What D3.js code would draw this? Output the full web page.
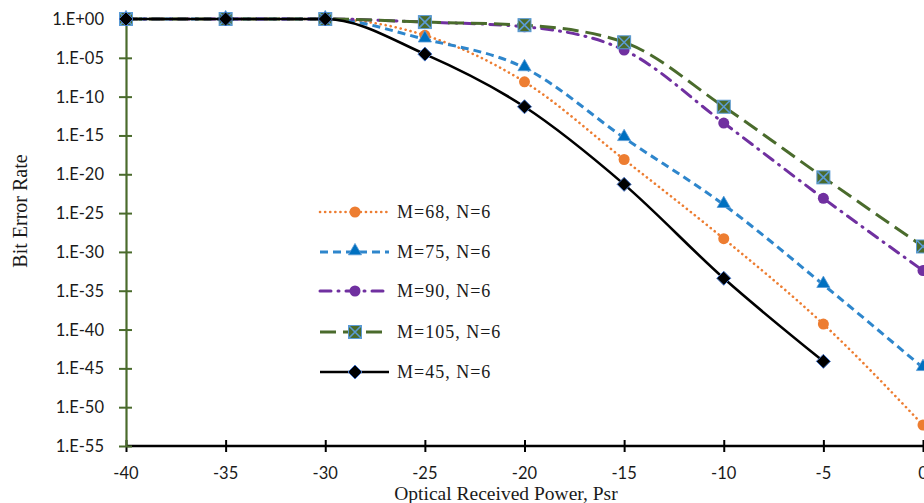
<!DOCTYPE html>
<html>
<head>
<meta charset="utf-8">
<script src="https://cdn.jsdelivr.net/npm/d3@7"></script>
<style>
	body { margin: 0; background: #fff; overflow: hidden; }
	.tick_lbl { font-family: Lato, "Open Sans", sans-serif; font-size: 16.5px; fill: #1a1a1a; }
	.ax_title { font-family: "Liberation Serif", "DejaVu Serif", serif; font-size: 20px; fill: #1a1a1a; }
	.x_title { font-size: 19.5px; }
	.leg_text { font-family: "Liberation Serif", "DejaVu Serif", serif; font-size: 18px; fill: #1a1a1a; letter-spacing: 1px; }
</style>
</head>
<body>
<div id="chart"></div>
<script>
// x values (optical received power)
let power = [-40, -35, -30, -25, -20, -15, -10, -5, 0];

// BER values
let ber_m68  = [1, 1, 1, 8e-3, 8e-9, 8e-19, 5e-29, 5e-40, 5e-53];
let ber_m75  = [1, 1, 1, 2.5e-3, 5e-7, 5e-16, 1.2e-24, 6e-35, 1.2e-45];
let ber_m90  = [1, 1, 1, 0.4, 0.1, 1e-4, 4e-14, 8e-24, 4e-33];
let ber_m105 = [1, 1, 1, 0.4, 0.16, 1e-3, 5e-12, 4e-21, 5e-30];
let ber_m45  = [1, 1, 1, 3e-5, 5e-12, 5e-22, 4e-34, 8e-45];

let series_names = ["M=68, N=6", "M=75, N=6", "M=90, N=6", "M=105, N=6", "M=45, N=6"];

let x_ticks = [-40, -35, -30, -25, -20, -15, -10, -5, 0];
let y_ticks = [1, 1e-5, 1e-10, 1e-15, 1e-20, 1e-25, 1e-30, 1e-35, 1e-40, 1e-45, 1e-50, 1e-55];
let y_tick_labels = ["1.E+00", "1.E-05", "1.E-10", "1.E-15", "1.E-20", "1.E-25", "1.E-30", "1.E-35", "1.E-40", "1.E-45", "1.E-50", "1.E-55"];

let width = 924, height = 503;
let plot = {left: 126, right: 923, top: 19, bottom: 446};

let svg = d3.select("#chart").append("svg")
	.attr("width", width)
	.attr("height", height);

//scales
let x_scale = d3.scaleLinear().domain([-40, 0]).range([plot.left, plot.right]);
let y_scale = d3.scaleLog().domain([1e-55, 1]).range([plot.bottom, plot.top]);

//series styles
let styles = [
	{color: "#ED7D31", width: 2.6, dash: "0.1 5", cap: "round", marker: "circle"},
	{color: "#2E86CC", width: 3, dash: "8 5", cap: "butt", marker: "triangle"},
	{color: "#7030A0", width: 3, dash: "11 7 1 7", cap: "round", marker: "circle2"},
	{color: "#4A6B2C", width: 3, dash: "16 7", cap: "butt", marker: "square"},
	{color: "#000000", width: 2.6, dash: null, cap: "butt", marker: "diamond"}
];

let all_data = [ber_m68, ber_m75, ber_m90, ber_m105, ber_m45].map(vals =>
	vals.map((v, i) => ({x: power[i], y: v})));

//x axis
let x_axis = d3.axisBottom(x_scale).tickValues(x_ticks).tickSizeInner(5).tickSizeOuter(0).tickFormat("");
let gx = svg.append("g")
	.attr("transform", "translate(0," + plot.bottom + ")")
	.call(x_axis);
gx.select(".domain").attr("stroke", "#000").attr("stroke-width", 2.5).attr("d", "M" + plot.left + ",0H" + (plot.right + 3));
gx.selectAll(".tick line").attr("stroke", "#000").attr("stroke-width", 2).attr("y1", -6).attr("y2", 6);
svg.selectAll(".x_lbl")
	.data(x_ticks)
	.enter()
	.append("text")
	.attr("class", "tick_lbl")
	.attr("x", d => x_scale(d))
	.attr("y", 479)
	.attr("text-anchor", "middle")
	.text(d => d);

//y axis
let y_axis = d3.axisLeft(y_scale).tickValues(y_ticks).tickSizeOuter(0).tickFormat("");
let gy = svg.append("g")
	.attr("transform", "translate(" + plot.left + ",0)")
	.call(y_axis);
gy.select(".domain").attr("stroke", "#4A6B2C").attr("stroke-width", 2.2);
gy.selectAll(".tick line").attr("stroke", "#4A6B2C").attr("stroke-width", 2).attr("x1", -7).attr("x2", 6);
svg.selectAll(".y_lbl")
	.data(y_ticks)
	.enter()
	.append("text")
	.attr("class", "tick_lbl")
	.attr("x", 104)
	.attr("y", d => y_scale(d) + 6)
	.attr("text-anchor", "end")
	.text((d, i) => y_tick_labels[i]);

//axis titles
svg.append("text")
	.attr("class", "ax_title")
	.attr("transform", "translate(27,211) rotate(-90)")
	.attr("text-anchor", "middle")
	.text("Bit Error Rate");
svg.append("text")
	.attr("class", "ax_title x_title")
	.attr("x", 506)
	.attr("y", 500)
	.attr("text-anchor", "middle")
	.text("Optical Received Power, Psr");

//draw one marker
function draw_marker(g, type, color, cx, cy) {
	if (type === "circle" || type === "circle2") {
		g.append("circle").attr("cx", cx).attr("cy", cy).attr("r", 5.5).attr("fill", color);
	} else if (type === "triangle") {
		g.append("path")
			.attr("d", d3.symbol().type(d3.symbolTriangle).size(75)())
			.attr("transform", "translate(" + cx + "," + (cy - 1) + ")")
			.attr("fill", "#0070C0").attr("stroke", "#5B9BD5").attr("stroke-width", 0.8);
	} else if (type === "square") {
		g.append("rect").attr("x", cx - 6.5).attr("y", cy - 6.5).attr("width", 13).attr("height", 13)
			.attr("fill", color).attr("stroke", "#5B9BD5").attr("stroke-width", 1);
		g.append("path")
			.attr("d", "M" + (cx - 6) + "," + (cy - 6) + "L" + (cx + 6) + "," + (cy + 6) + "M" + (cx + 6) + "," + (cy - 6) + "L" + (cx - 6) + "," + (cy + 6))
			.attr("stroke", "#5B9BD5").attr("stroke-width", 1.6);
	} else if (type === "diamond") {
		g.append("path")
			.attr("d", "M" + cx + "," + (cy - 7) + "L" + (cx + 7) + "," + cy + "L" + cx + "," + (cy + 7) + "L" + (cx - 7) + "," + cy + "Z")
			.attr("fill", "#000").attr("stroke", "#4472C4").attr("stroke-width", 1);
	}
}

//lines (monotone smoothing keeps the flat start from bulging)
let line = d3.line()
	.x(d => x_scale(d.x))
	.y(d => y_scale(d.y))
	.curve(d3.curveMonotoneX);

all_data.forEach((data, k) => {
	let s = styles[k];
	svg.append("path")
		.datum(data)
		.attr("fill", "none")
		.attr("stroke", s.color)
		.attr("stroke-width", s.width)
		.attr("stroke-dasharray", s.dash)
		.attr("stroke-linecap", s.cap)
		.attr("d", line);
	let g = svg.append("g");
	data.forEach(d => draw_marker(g, s.marker, s.color, x_scale(d.x), y_scale(d.y)));
});

//legend
let leg_y = [212, 252, 291, 332, 372];
let legend = svg.append("g");
series_names.forEach((name, k) => {
	let s = styles[k];
	legend.append("line")
		.attr("x1", 320).attr("x2", 389)
		.attr("y1", leg_y[k]).attr("y2", leg_y[k])
		.attr("stroke", s.color)
		.attr("stroke-width", s.width)
		.attr("stroke-dasharray", s.dash)
		.attr("stroke-linecap", s.cap);
	draw_marker(legend, s.marker, s.color, 355, leg_y[k]);
	legend.append("text")
		.attr("class", "leg_text")
		.attr("x", 397)
		.attr("y", leg_y[k] + 6)
		.text(name);
});
</script>
</body>
</html>
